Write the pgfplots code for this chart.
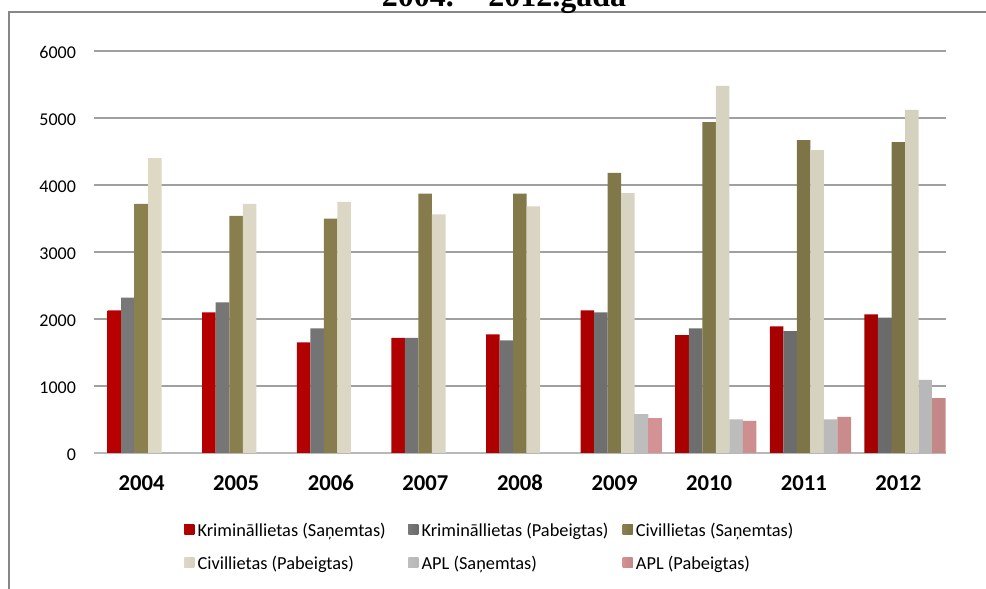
\documentclass[border=0pt]{standalone}
\usepackage{pgfplots}
\pgfplotsset{compat=1.18}
\usepackage{fontspec}
\setmainfont{Carlito}
\newfontfamily\serifb{Liberation Serif}
\definecolor{cRed}{HTML}{C80000}
\definecolor{cGray}{HTML}{858585}
\definecolor{cOlive}{HTML}{9A8F58}
\definecolor{cCream}{HTML}{EAE5CF}
\definecolor{cCreamL}{HTML}{DDD9C3}
\definecolor{cLGray}{HTML}{C6C6C6}
\definecolor{cPink}{HTML}{E69FA0}
\definecolor{cFrame}{HTML}{878787}
\definecolor{cGrid}{HTML}{A0A0A0}
\begin{document}
\begin{tikzpicture}[x=0.75pt,y=0.75pt]
\draw[cFrame, line width=1.5pt] (9,-5) -- (9,577) -- (995,577);
\node[anchor=base, inner sep=0pt, font=\serifb\bfseries\fontsize{24}{26}\selectfont] at (504,582) {2004. – 2012.gada};
\coordinate (P) at (94.25,136);
\begin{axis}[
  at={(P)}, anchor=south west,
  scale only axis, width=638.6pt, height=301.5pt,
  xmin=-0.5, xmax=8.5, ymin=0, ymax=6000,
  ybar=0pt, bar width=0.143,
  axis x line*=bottom, axis y line*=left,
  x axis line style={-, draw=cGrid!75, line width=1.5pt},
  y axis line style={draw=none},
  ymajorgrids, major grid style={cGrid, line width=1.5pt},
  major tick length=0pt,
  xtick={0,...,8},
  xticklabels={2004,2005,2006,2007,2008,2009,2010,2011,2012},
  xticklabel style={anchor=base, inner sep=0pt, yshift=-28.5pt, font=\bfseries\fontsize{17}{20}\selectfont},
  ytick={0,1000,2000,3000,4000,5000,6000},
  yticklabels={0,1000,2000,3000,4000,5000,6000},
  yticklabel style={anchor=base east, inner sep=0pt, xshift=-13.5pt, yshift=-5.6pt, font=\fontsize{13.5}{16}\selectfont},
  clip=false,
  legend columns=3,
  legend style={at={(0.1054,-0.1680)}, anchor=north west, draw=none, fill=none, inner sep=0pt,
    font=\fontsize{13.75}{16.5}\selectfont,
    nodes={inner sep=0pt},
    /tikz/every odd column/.append style={column sep=2.5pt},
    row sep=12pt},
  legend cell align=left,
]
\addplot[draw=none, left color=cRed!92!black, middle color=cRed!96!white, right color=cRed!82!black,
  legend image code/.code={\fill[cRed] (0pt,-3.75pt) rectangle (7.5pt,3.75pt);}]
  coordinates {(0.07,2130) (1.07,2100) (2.07,1650) (3.07,1720) (4.07,1770) (5.07,2130) (6.07,1760) (7.07,1890) (8.07,2070)};
\addlegendentry{\makebox[158pt][l]{\strut Krimināllietas (Saņemtas)}}
\addplot[draw=none, left color=cGray!90!black, middle color=cGray!92!white, right color=cGray!80!black,
  legend image code/.code={\fill[cGray] (0pt,-3.75pt) rectangle (7.5pt,3.75pt);}]
  coordinates {(0.07,2320) (1.07,2250) (2.07,1860) (3.07,1720) (4.07,1680) (5.07,2100) (6.07,1860) (7.07,1820) (8.07,2020)};
\addlegendentry{\makebox[150.75pt][l]{\strut Krimināllietas (Pabeigtas)}}
\addplot[draw=none, left color=cOlive!90!black, middle color=cOlive!95!white, right color=cOlive!80!black,
  legend image code/.code={\fill[cOlive] (0pt,-3.75pt) rectangle (7.5pt,3.75pt);}]
  coordinates {(0.07,3720) (1.07,3540) (2.07,3500) (3.07,3870) (4.07,3870) (5.07,4180) (6.07,4940) (7.07,4670) (8.07,4640)};
\addlegendentry{\strut Civillietas (Saņemtas)}
\addplot[draw=none, left color=cCream!88!gray, middle color=cCream!75!white, right color=cCream!80!gray,
  legend image code/.code={\fill[cCreamL] (0pt,-3.75pt) rectangle (7.5pt,3.75pt);}]
  coordinates {(0.07,4400) (1.07,3720) (2.07,3750) (3.07,3560) (4.07,3680) (5.07,3880) (6.07,5480) (7.07,4520) (8.07,5120)};
\addlegendentry{\makebox[158pt][l]{\strut Civillietas (Pabeigtas)}}
\addplot[draw=none, left color=cLGray!88!gray, middle color=cLGray!85!white, right color=cLGray!80!gray,
  legend image code/.code={\fill[cLGray] (0pt,-3.75pt) rectangle (7.5pt,3.75pt);}]
  coordinates {(5.07,580) (6.07,500) (7.07,500) (8.07,1090)};
\addlegendentry{\makebox[150.75pt][l]{\strut APL (Saņemtas)}}
\addplot[draw=none, left color=cPink!92!black, middle color=cPink!92!white, right color=cPink!85!black,
  legend image code/.code={\fill[cPink] (0pt,-3.75pt) rectangle (7.5pt,3.75pt);}]
  coordinates {(5.07,520) (6.07,480) (7.07,540) (8.07,820)};
\addlegendentry{\strut APL (Pabeigtas)}
\end{axis}
\pgfresetboundingbox
\path[use as bounding box] (0,0) rectangle (986,589);
\end{tikzpicture}
\end{document}
